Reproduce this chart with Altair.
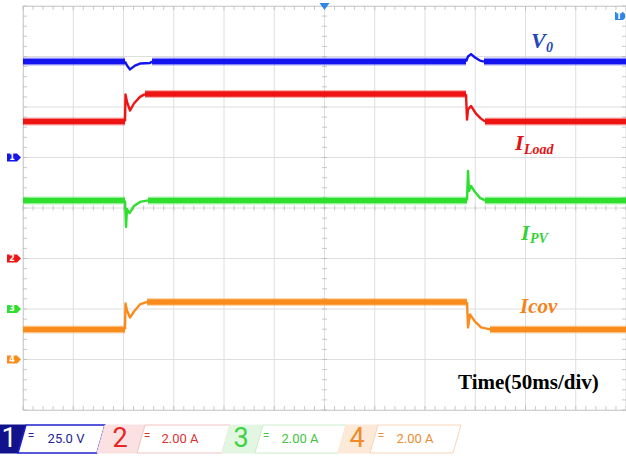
import altair as alt
import numpy as np
import pandas as pd

# ---- scope settings -------------------------------------------------------
MS_PER_DIV = 50          # horizontal scale
N_XDIV, N_YDIV = 12, 8   # graticule divisions
T_END = MS_PER_DIV * N_XDIV

CHANNELS = ["V0", "ILoad", "IPV", "Icov"]
CH_NUMBER = ["1", "2", "3", "4"]
CH_OFFSET_DIV = [5, 3, 2, 1]          # ground reference of each channel
CH_PER_DIV = [25.0, 2.0, 2.0, 2.0]    # V/div, A/div
CH_SCALE_TEXT = ["25.0 V", "2.00 A", "2.00 A", "2.00 A"]
CH_COLOR = ["#1414ee", "#ee1414", "#2fdf2f", "#f98c1c"]

# ---- captured waveforms (time in ms, value in V or A) --------------------
t_v0 = [0, 101.5, 103.5, 106.5, 111.4, 116.4, 126.4, 128.4,
        440.8, 442.8, 445.8, 449.8, 454.7, 458.7, 600]
v0 = [47.5, 47.5, 45.5, 43.6, 45.5, 46.5, 46.8, 47.5,
      47.5, 50.0, 51.2, 49.5, 48.0, 47.5, 47.5]
quiet_v0 = [(101.5, 128.4), (440.8, 458.7)]

t_iload = [0, 101.5, 102.0, 103.5, 106.5, 110.4, 116.4, 121.4,
           440.8, 441.8, 442.8, 445.8, 450.7, 455.7, 459.7, 600]
i_load = [5.43, 5.43, 6.50, 6.20, 5.86, 6.14, 6.40, 6.51,
          6.51, 5.50, 5.90, 6.04, 5.74, 5.54, 5.43, 5.43]
quiet_iload = [(101.5, 121.4), (440.8, 459.7)]

t_ipv = [0, 101.5, 102.5, 103.5, 106.0, 110.4, 116.4, 124.4,
         441.8, 442.8, 443.8, 445.8, 449.8, 454.7, 459.7, 600]
i_pv = [4.30, 4.30, 3.25, 3.96, 3.80, 4.08, 4.24, 4.30,
        4.30, 5.47, 4.67, 4.87, 4.63, 4.40, 4.30, 4.30]
quiet_ipv = [(101.5, 124.4), (441.8, 459.7)]

t_icov = [0, 101.5, 102.0, 103.5, 106.5, 110.4, 116.4, 123.4,
          440.8, 441.8, 442.8, 444.8, 449.8, 455.7, 464.7, 600]
i_cov = [1.19, 1.19, 2.22, 1.94, 1.66, 1.90, 2.18, 2.28,
         2.28, 2.28, 1.27, 1.78, 1.50, 1.27, 1.19, 1.19]
quiet_icov = [(101.5, 123.4), (441.8, 464.7)]


def trace_rows(name, ts, vs, offset, per_div, quiet):
    """Split a trace into noisy (steady) and quiet (transient) segments."""
    cuts = [ts[0]] + [b for w in quiet for b in w] + [ts[-1]]
    rows = []
    for k in range(len(cuts) - 1):
        a, b = cuts[k], cuts[k + 1]
        for t, v in zip(ts, vs):
            if a <= t <= b:
                rows.append({"ch": name, "seg": f"{name}-{k}",
                             "noisy": k % 2 == 0, "t": t,
                             "div": offset + v / per_div})
    return rows


rows = []
for name, ts, vs, q, off, pdv in zip(
        CHANNELS, [t_v0, t_iload, t_ipv, t_icov], [v0, i_load, i_pv, i_cov],
        [quiet_v0, quiet_iload, quiet_ipv, quiet_icov], CH_OFFSET_DIV, CH_PER_DIV):
    rows += trace_rows(name, ts, vs, off, pdv, q)
traces = pd.DataFrame(rows)

W, H = 603, 404
xs = alt.Scale(domain=[0, T_END], nice=False, zero=False)
ys = alt.Scale(domain=[0, N_YDIV], nice=False, zero=False)
color = alt.Color("ch:N", scale=alt.Scale(domain=CHANNELS, range=CH_COLOR), legend=None)

# ---- graticule ------------------------------------------------------------
grid_x = pd.DataFrame({"t": np.arange(0, T_END + 1, MS_PER_DIV)})
grid_y = pd.DataFrame({"div": np.arange(0, N_YDIV + 1)})
grid = [
    alt.Chart(grid_x).mark_rule(color="#dedede", strokeWidth=1).encode(
        x=alt.X("t:Q", scale=xs, axis=None)),
    alt.Chart(grid_y).mark_rule(color="#dedede", strokeWidth=1).encode(
        y=alt.Y("div:Q", scale=ys, axis=None)),
]

minor_t = pd.DataFrame({"t": np.arange(0, T_END + 1, MS_PER_DIV / 5)})
minor_t["mid"] = N_YDIV / 2
minor_d = pd.DataFrame({"div": np.arange(0, N_YDIV + 0.01, 0.2)})
minor_d["mid"] = T_END / 2
tick_col = "#b4b4b4"
ticks = [
    alt.Chart(minor_t).mark_tick(orient="vertical", size=4, thickness=1, color=tick_col)
    .encode(x=alt.X("t:Q", scale=xs, axis=None), y=alt.value(2)),
    alt.Chart(minor_t).mark_tick(orient="vertical", size=4, thickness=1, color=tick_col)
    .encode(x=alt.X("t:Q", scale=xs, axis=None), y=alt.value(H - 2)),
    alt.Chart(minor_t).mark_tick(orient="vertical", size=5, thickness=1, color=tick_col)
    .encode(x=alt.X("t:Q", scale=xs, axis=None), y=alt.Y("mid:Q", scale=ys, axis=None)),
    alt.Chart(minor_d).mark_tick(orient="horizontal", size=4, thickness=1, color=tick_col)
    .encode(y=alt.Y("div:Q", scale=ys, axis=None), x=alt.value(2)),
    alt.Chart(minor_d).mark_tick(orient="horizontal", size=4, thickness=1, color=tick_col)
    .encode(y=alt.Y("div:Q", scale=ys, axis=None), x=alt.value(W - 2)),
    alt.Chart(minor_d).mark_tick(orient="horizontal", size=5, thickness=1, color=tick_col)
    .encode(y=alt.Y("div:Q", scale=ys, axis=None), x=alt.X("mid:Q", scale=xs, axis=None)),
]

# ---- waveforms ------------------------------------------------------------
base = alt.Chart(traces).encode(
    x=alt.X("t:Q", scale=xs, axis=None),
    y=alt.Y("div:Q", scale=ys, axis=None),
    color=color,
    detail="seg:N",
)
thin = base.mark_line(strokeWidth=2.4, strokeJoin="round")
halo = base.transform_filter("datum.noisy").mark_line(strokeWidth=8, opacity=0.35)
core = base.transform_filter("datum.noisy").mark_line(strokeWidth=5.5)

# ---- channel reference markers -------------------------------------------
marks = pd.DataFrame({"ch": CHANNELS, "num": CH_NUMBER, "div": CH_OFFSET_DIV})
ref_arrow = alt.Chart(marks).mark_point(
    shape="M -7 -4 L 3 -4 L 7 0 L 3 4 L -7 4 Z", size=4, filled=True, opacity=1
).encode(x=alt.value(-9), y=alt.Y("div:Q", scale=ys, axis=None), color=color)
ref_num = alt.Chart(marks).mark_text(
    color="white", fontSize=8, fontWeight="bold", font="DejaVu Sans"
).encode(x=alt.value(-11), y=alt.Y("div:Q", scale=ys, axis=None), text="num:N")

one = pd.DataFrame({"k": [0], "t": [T_END / 2]})
trig = alt.Chart(one).mark_point(
    shape="M -5 -3 L 5 -3 L 0 4 Z", size=4, filled=True, color="#2f86e6", opacity=1
).encode(x=alt.X("t:Q", scale=xs, axis=None), y=alt.value(0))
tmark = alt.Chart(one).mark_point(
    shape="M -5 -4 L 3 -4 L 5 -2 L 5 2 L 3 4 L -5 4 Z", size=4, filled=True,
    color="#2f86e6", opacity=1
).encode(x=alt.value(597), y=alt.value(10))
tmark_txt = alt.Chart(pd.DataFrame({"s": ["T"]})).mark_text(
    color="white", fontSize=8, fontWeight="bold", font="DejaVu Sans"
).encode(x=alt.value(596), y=alt.value(10.5), text="s:N")


def label(s, x, y, size, color, italic=True, bold=True, font="Liberation Serif"):
    return alt.Chart(pd.DataFrame({"s": [s]})).mark_text(
        align="left", baseline="alphabetic", fontSize=size, color=color, font=font,
        fontStyle="italic" if italic else "normal",
        fontWeight="bold" if bold else "normal",
    ).encode(x=alt.value(x), y=alt.value(y), text="s:N")


labels = [
    label("V", 508, 42, 22, "#2246bd"),
    label("0", 523, 46, 14, "#2246bd"),
    label("I", 492, 144, 22, "#e41212"),
    label("Load", 501, 148, 14, "#e41212"),
    label("I", 498, 234, 22, "#36d236"),
    label("PV", 507, 237, 14, "#36d236"),
    label("Icov", 497, 307, 21, "#f3841c"),
    label("Time(50ms/div)", 435, 383, 21, "black", italic=False),
]

# ---- channel settings bar -------------------------------------------------
LY = 433          # centre line of the bar (plot pixels)
X0 = -23          # left edge of the page in plot pixels


def para(bl, br, fill, stroke, sw=1.0):
    """Slanted box spanning [bl, br] at its bottom edge (page pixels)."""
    a, b = bl + X0, br + X0
    path = f"M {a} 14 L {a + 8} -14 L {b + 8} -14 L {b} 14 Z"
    return alt.Chart(one).mark_point(
        shape=path, size=4, filled=True, fill=fill, stroke=stroke, strokeWidth=sw, opacity=1
    ).encode(x=alt.value(0), y=alt.value(LY))


pale = ["#ffffff", "#fbe1e1", "#e2f6e2", "#fde9d8"]
edge = ["#2020d0", "#f3c2c2", "#c9edc9", "#f8d5b8"]
digit_col = ["#ffffff", "#e52626", "#3fd23f", "#f08a2a"]
text_col = ["#23239a", "#d83434", "#3fc43f", "#e98c34"]
spans = [(-12, 18, 97), (97, 137, 222), (222, 255, 338), (338, 370, 453)]
digit_x = [9, 120, 241, 357]
eq_x = [31, 147, 266, 381]
val_x = [66, 180, 300, 415]

bar = [para(spans[0][0], spans[0][1], "#12128c", "#12128c")]
for i in range(4):
    s0, s1, s2 = spans[i]
    if i > 0:
        bar.append(para(s0, s1, pale[i], pale[i]))
    bar.append(para(s1, s2, "#ffffff", edge[i], 1.5 if i == 0 else 1.0))
for i in range(4):
    bar.append(alt.Chart(pd.DataFrame({"s": [CH_NUMBER[i]]})).mark_text(
        align="center", baseline="alphabetic", fontSize=27, font="Roboto",
        color=digit_col[i]).encode(x=alt.value(digit_x[i] + X0), y=alt.value(441), text="s:N"))
    bar.append(alt.Chart(pd.DataFrame({"s": ["="]})).mark_text(
        align="center", baseline="alphabetic", fontSize=12, font="Roboto",
        color=text_col[i]).encode(x=alt.value(eq_x[i] + X0), y=alt.value(434), text="s:N"))
    bar.append(alt.Chart(pd.DataFrame({"s": [CH_SCALE_TEXT[i]]})).mark_text(
        align="center", baseline="alphabetic", fontSize=13, font="Roboto",
        color=text_col[i]).encode(x=alt.value(val_x[i] + X0), y=alt.value(437), text="s:N"))

chart = alt.layer(
    *grid, *ticks, halo, core, thin, ref_arrow, ref_num, trig, tmark, tmark_txt,
    *labels, *bar,
).properties(
    width=W, height=H,
    padding={"left": 23, "top": 6, "right": 0, "bottom": 47},
    autosize=alt.AutoSizeParams(type="none"),
    background="white",
).configure_view(stroke="#c4c4c4", strokeWidth=1)

chart.save("out.html", embed_options={"renderer": "svg", "actions": False})
